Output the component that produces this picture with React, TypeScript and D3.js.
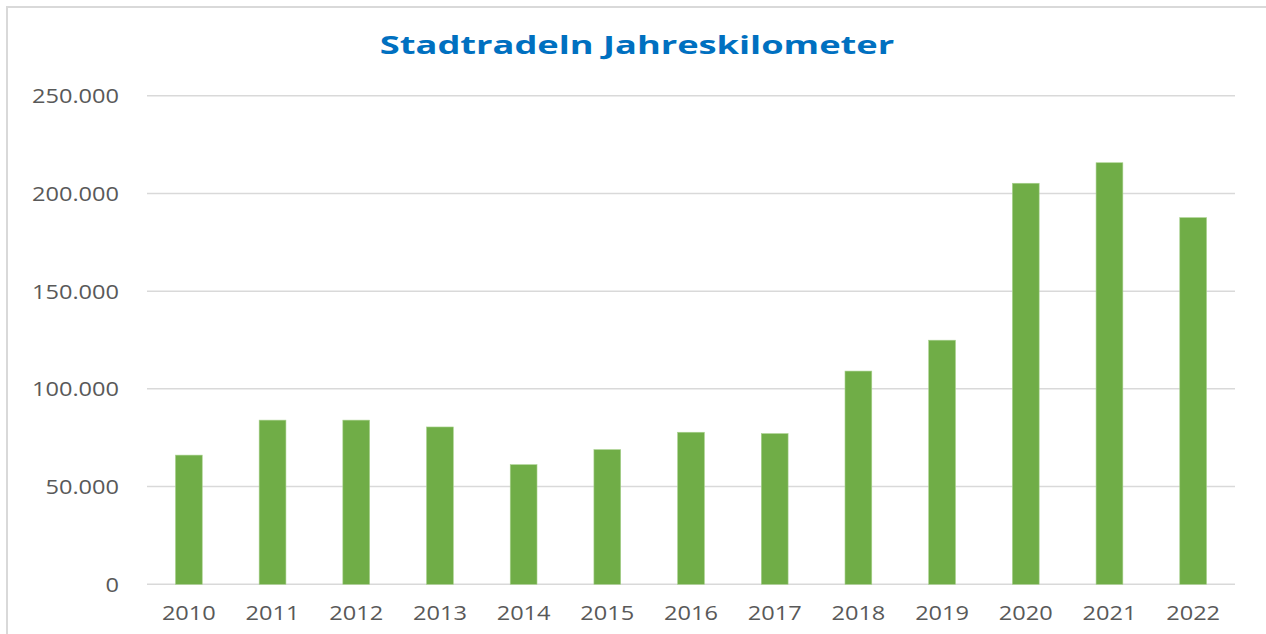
import React from "react";
import * as d3 from "d3";

const years = ["2010","2011","2012","2013","2014","2015","2016","2017","2018","2019","2020","2021","2022"];
const kilometers = [66100, 84000, 84000, 80500, 61200, 68900, 77800, 77100, 109100, 124900, 205200, 215700, 187600];
const yTicks = [0, 50000, 100000, 150000, 200000, 250000];
const title = "Stadtradeln Jahreskilometer";

const W = 1266, H = 634;
const m = { left: 147, right: 1235, top: 95.7, bottom: 584.3 };

export default function App() {
  const x = d3.scaleBand<string>().domain(years).range([m.left, m.right]).paddingInner(0.68).paddingOuter(0.34);
  const y = d3.scaleLinear().domain([0, 250000]).range([m.bottom, m.top]);
  const fmt = (v: number) => v === 0 ? "0" : d3.format(",")(v).replace(/,/g, ".");
  const font = "'Open Sans', 'Noto Sans', sans-serif";
  return (
    <svg width={W} height={H} style={{ position: "absolute", left: 0, top: 0, background: "#fff" }} fontFamily={font}>
      <rect x={7} y={7} width={W + 10} height={H + 10} fill="#fff" stroke="#d9d9d9" strokeWidth={2} />
      <text transform={`translate(637,54) scale(1.45,1)`} textAnchor="middle" fontSize={25} fontWeight="bold" fill="#0070c0">{title}</text>
      {yTicks.map(t => (
        <g key={t}>
          <line x1={m.left} x2={m.right} y1={y(t)} y2={y(t)} stroke="#d9d9d9" strokeWidth={1.5} />
          <text transform={`translate(119,${y(t)}) scale(1.15,1)`} dy="0.36em" textAnchor="end" fontSize={20.5} fill="#595959">{fmt(t)}</text>
        </g>
      ))}
      {years.map((yr, i) => (
        <g key={yr}>
          <rect x={x(yr)} y={y(kilometers[i])} width={x.bandwidth()} height={y(0) - y(kilometers[i])} fill="#70ad47" stroke="#a9d18e" strokeWidth={0.6} />
          <text transform={`translate(${(x(yr) as number) + x.bandwidth() / 2},620) scale(1.15,1)`} textAnchor="middle" fontSize={20.5} fill="#595959">{yr}</text>
        </g>
      ))}
    </svg>
  );
}
